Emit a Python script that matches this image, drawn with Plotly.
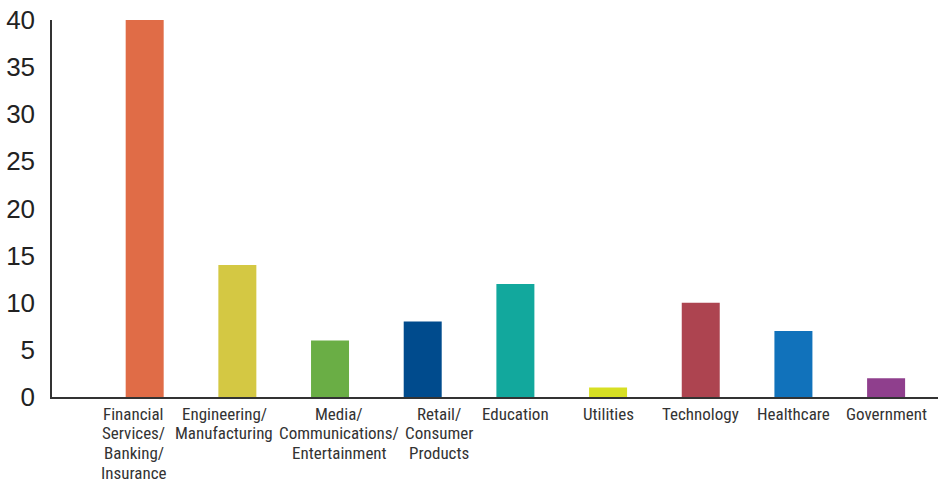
import plotly.graph_objects as go

categories = [
    "Financial Services/ Banking/ Insurance",
    "Engineering/ Manufacturing",
    "Media/ Communications/ Entertainment",
    "Retail/ Consumer Products",
    "Education",
    "Utilities",
    "Technology",
    "Healthcare",
    "Government",
]
# how each category name wraps under its bar
label_lines = [
    ["Financial", "Services/", "Banking/", "Insurance"],
    ["Engineering/", "Manufacturing"],
    ["Media/", "Communications/", "Entertainment"],
    ["Retail/", "Consumer", "Products"],
    ["Education"],
    ["Utilities"],
    ["Technology"],
    ["Healthcare"],
    ["Government"],
]
values = [40, 14, 6, 8, 12, 1, 10, 7, 2]
colors = ["#E06C47", "#D4C843", "#6AAE45", "#004B8D", "#12A89D",
          "#D7DF23", "#AD4450", "#1172BB", "#8F3F8D"]
y_ticks = [0, 5, 10, 15, 20, 25, 30, 35, 40]

# horizontal nudges (px) so neighbouring wrapped labels don't collide
label_nudge = [-11, -13, 9, 16, 0, 0, 0, 0, 0]

xs = list(range(len(categories)))

fig = go.Figure(go.Bar(
    x=xs,
    y=values,
    marker=dict(color=colors, line=dict(width=0)),
    width=0.41,
    hovertext=categories,
))

label_font = dict(family="Liberation Sans Narrow, Roboto Condensed, Arial Narrow, sans-serif",
                  size=17, color="#333333")
for i, lines in enumerate(label_lines):
    for j, line in enumerate(lines):
        fig.add_annotation(
            x=xs[i], xref="x", y=0, yref="paper",
            text=line, showarrow=False,
            xanchor="center", yanchor="middle",
            xshift=label_nudge[i], yshift=-16.5 - 19.8 * j,
            borderpad=0,
            font=label_font,
        )

fig.update_layout(
    width=938, height=479,
    margin=dict(l=52, r=0, t=20, b=82),
    paper_bgcolor="white", plot_bgcolor="white",
    showlegend=False,
    xaxis=dict(
        range=[-1, 8.56],
        tickmode="array",
        tickvals=xs,
        showticklabels=False,
        showgrid=False, zeroline=False,
        showline=True, linecolor="#333333", linewidth=1.5,
        ticks="",
        automargin=False,
    ),
    yaxis=dict(
        range=[0, 40],
        tickmode="array",
        tickvals=y_ticks,
        showgrid=False, zeroline=False,
        showline=True, linecolor="#333333", linewidth=1.5,
        ticks="",
        ticklabelstandoff=10,
        automargin=False,
        tickfont=dict(family="Liberation Sans, Arial, sans-serif", size=26, color="#222222"),
    ),
)

fig.write_html("out.html")
